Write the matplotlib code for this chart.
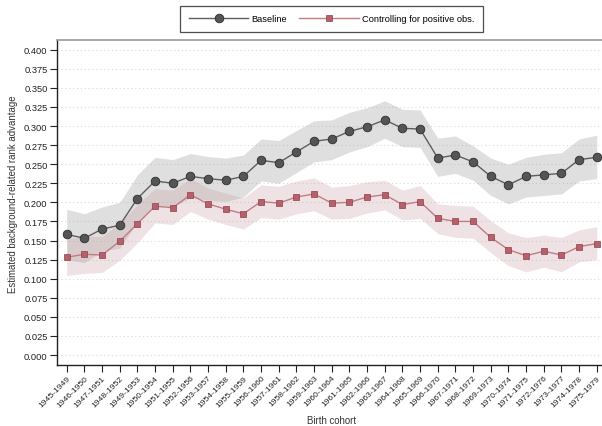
import matplotlib
matplotlib.use("Agg")
import matplotlib.pyplot as plt
import numpy as np

plt.rcParams["font.family"] = ["Liberation Sans", "DejaVu Sans"]

cohorts = [f"{y}-{y + 4}" for y in range(1945, 1976)]

baseline = [0.158, 0.153, 0.165, 0.170, 0.205, 0.228, 0.225, 0.234, 0.231, 0.229,
            0.234, 0.255, 0.252, 0.266, 0.280, 0.283, 0.293, 0.299, 0.308, 0.297,
            0.296, 0.258, 0.262, 0.253, 0.234, 0.223, 0.234, 0.236, 0.238, 0.256,
            0.259]
baseline_hi = [0.191, 0.185, 0.194, 0.200, 0.236, 0.259, 0.256, 0.264, 0.260, 0.258,
               0.262, 0.283, 0.281, 0.294, 0.307, 0.308, 0.318, 0.324, 0.333, 0.322,
               0.321, 0.284, 0.287, 0.274, 0.258, 0.250, 0.259, 0.263, 0.265, 0.283,
               0.288]
baseline_lo = [0.125, 0.121, 0.136, 0.140, 0.174, 0.197, 0.194, 0.206, 0.203, 0.201,
               0.207, 0.228, 0.225, 0.239, 0.253, 0.256, 0.266, 0.273, 0.284, 0.273,
               0.272, 0.234, 0.238, 0.229, 0.209, 0.198, 0.207, 0.209, 0.211, 0.228,
               0.231]

controlled = [0.128, 0.132, 0.131, 0.149, 0.172, 0.195, 0.193, 0.210, 0.198, 0.191,
              0.185, 0.201, 0.199, 0.207, 0.211, 0.199, 0.200, 0.207, 0.210, 0.197,
              0.201, 0.179, 0.175, 0.175, 0.154, 0.138, 0.130, 0.136, 0.131, 0.142,
              0.146]
controlled_hi = [0.152, 0.156, 0.155, 0.173, 0.197, 0.218, 0.216, 0.231, 0.219, 0.212,
                 0.206, 0.223, 0.221, 0.228, 0.232, 0.220, 0.222, 0.227, 0.229, 0.216,
                 0.222, 0.198, 0.196, 0.195, 0.176, 0.160, 0.154, 0.157, 0.154, 0.164,
                 0.168]
controlled_lo = [0.104, 0.107, 0.108, 0.124, 0.147, 0.173, 0.171, 0.188, 0.178, 0.171,
                 0.165, 0.180, 0.178, 0.185, 0.189, 0.178, 0.179, 0.186, 0.190, 0.177,
                 0.179, 0.159, 0.154, 0.153, 0.134, 0.117, 0.109, 0.115, 0.109, 0.122,
                 0.125]

yticks = np.arange(0, 0.4001, 0.025)

fig = plt.figure(figsize=(6.02, 4.27), dpi=100)
ax = fig.add_axes([57 / 602, 1 - 365.7 / 427, (606.5 - 57) / 602, (365.7 - 41) / 427])

x = np.arange(len(cohorts))

ax.fill_between(x, baseline_lo, baseline_hi, color="#a8a8a8", alpha=0.36, lw=0, zorder=1)
ax.fill_between(x, controlled_lo, controlled_hi, color="#c99a9e", alpha=0.28, lw=0, zorder=1)

ax.plot(x, baseline, color="#5e5e5e", lw=1.0, marker="o", ms=6.2,
        mfc="#555555", mec="#2e2e2e", mew=0.6, zorder=3, label="Baseline")
ax.plot(x, controlled, color="#c27c85", lw=1.0, marker="s", ms=4.6,
        mfc="#b5606b", mec="#8e3f49", mew=0.5, zorder=3,
        label="Controlling for positive obs.")

ax.set_xlim(-0.55, 30.55)
ax.set_ylim(-0.0127, 0.4127)
ax.set_yticks(yticks)
ax.set_yticklabels([f"{v:.3f}" for v in yticks], fontsize=6.7, color="#222222")
ax.set_xticks(x)
ax.set_xticklabels(cohorts, rotation=45, ha="right", rotation_mode="anchor",
                   fontsize=6.1, color="#222222")

ax.yaxis.grid(True, color="#d8d8d8", linestyle=(0, (1, 2.5)), lw=0.8)
ax.set_axisbelow(True)

ax.tick_params(axis="both", length=4.8, width=0.8, color="#222222", pad=2)
for side in ("left", "bottom"):
    ax.spines[side].set_color("#222222")
    ax.spines[side].set_linewidth(1.0)
ax.spines["top"].set_color("#999999")
ax.spines["top"].set_linewidth(1.2)
ax.spines["right"].set_visible(False)

ax.set_ylabel("Estimated background-related rank advantage", fontsize=6.9, color="#333333")
ax.yaxis.set_label_coords((18 - 57) / 549.5, (365.7 - 194) / 324.7)
ax.set_xlabel("Birth cohort", fontsize=6.9, color="#333333")
ax.xaxis.set_label_coords((332 - 57) / 549.5, -(416.5 - 365.7) / 324.7)

leg = fig.legend(loc="center", bbox_to_anchor=(331.5 / 602, 1 - 20 / 427), ncol=2,
                 fontsize=6.7, frameon=True, fancybox=False, edgecolor="#222222",
                 handlelength=6.4, handletextpad=0.3, columnspacing=1.35,
                 borderpad=0.95, borderaxespad=0)
leg.get_frame().set_linewidth(0.9)

fig.savefig("out.png", dpi=100)
